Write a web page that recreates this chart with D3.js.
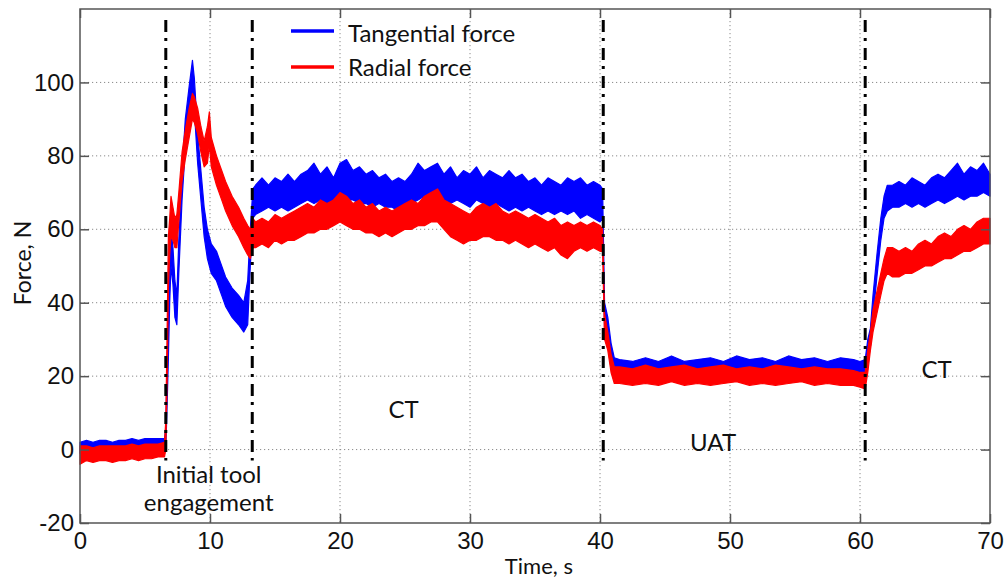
<!DOCTYPE html>
<html>
<head>
<meta charset="utf-8">
<script src="https://cdn.jsdelivr.net/npm/d3@7"></script>
<style>
  html, body { margin: 0; padding: 0; background: #ffffff; }
  svg { display: block; }
</style>
</head>
<body>
<svg id="chart" width="1008" height="580"></svg>
<script>
// ---------------- DATA ----------------
const xTicks = [0, 10, 20, 30, 40, 50, 60, 70];
const yTicks = [-20, 0, 20, 40, 60, 80, 100];
const xDomain = [0, 70];
const yDomain = [-20, 120];

// Time samples (s)
const time = [
  0, 0.5, 1, 1.5, 2, 2.5, 3, 3.5, 4, 4.5, 5, 5.5, 6, 6.5,
  6.6, 6.7, 6.8, 6.9, 7.0, 7.15, 7.3, 7.45, 7.6, 7.85, 8.1, 8.4, 8.65, 8.8, 9.05, 9.3, 9.55, 9.8, 9.95, 10.1, 10.5, 10.9, 11.2, 11.7, 12.2, 12.6, 12.9, 13.1, 13.3,
  13.5, 14, 14.5, 15, 15.5, 16, 16.5, 17, 17.5, 18, 18.5, 19, 19.5, 20, 20.5, 21, 21.5, 22, 22.5, 23, 23.5, 24, 24.5, 25, 25.5, 26, 26.5, 27, 27.5, 28, 28.5, 29, 29.5, 30, 30.5, 31, 31.5, 32, 32.5, 33, 33.5, 34, 34.5, 35, 35.5, 36, 36.5, 37, 37.5, 38, 38.5, 39, 39.5, 40,
  40.2, 40.35, 40.6, 40.85, 41.1,
  41.5, 42.5, 43.5, 44.5, 45.5, 46.5, 47.5, 48.5, 49.5, 50.5, 51.5, 52.5, 53.5, 54.5, 55.5, 56.5, 57.5, 58.5, 59.5,
  60.0, 60.4, 60.6, 60.8, 61.0, 61.3, 61.6, 61.85, 62.1, 62.5,
  63, 63.5, 64, 64.5, 65, 65.5, 66, 66.5, 67, 67.5, 68, 68.5, 69, 69.5, 70
];

// Tangential force envelope (N)
const tangentialHigh = [
  2, 2.5, 2, 2.5, 2.5, 2, 2.5, 2.5, 3, 2.5, 3, 3, 3, 3,
  6, 24, 36, 52, 60, 55, 46, 42, 57, 76, 90, 99, 106, 101, 86, 76, 66, 60, 58, 56, 54, 50, 47, 44, 42, 40, 46, 60, 71,
  72, 74, 72, 74, 73, 75, 73, 75, 76, 78, 75, 77, 74, 78, 79, 76, 77, 75, 76, 74, 75, 73, 74, 73, 75, 78, 76, 77, 78, 75, 77, 74, 76, 75, 77, 74, 76, 75, 74, 76, 74, 75, 73, 74, 72, 74, 73, 72, 74, 73, 74, 72, 73, 72,
  71, 40, 36, 29, 25,
  24.5, 24, 25, 24, 25.5, 24, 24.5, 25, 24, 25.5, 24.5, 25, 24, 25.5, 24.5, 25, 24, 25, 24.5,
  24, 24.5, 30, 33, 42, 53, 63, 69, 72, 72,
  73, 72, 74, 73, 72, 74, 75, 74, 76, 78, 75, 77, 76, 78, 75
];
const tangentialLow = [
  -1, -0.5, -1, -0.5, -0.5, -1, -0.5, -0.5, 0, -0.5, 0, 0, 0, 0,
  0, 12, 25, 40, 50, 45, 36, 34, 48, 68, 82, 91, 97, 92, 78, 68, 58, 52, 50, 48, 46, 42, 39, 36, 34, 32, 34, 50, 63,
  64, 65, 66, 65, 66, 65, 66, 67, 68, 67, 68, 67, 68, 67, 68, 68, 67, 67, 66, 67, 66, 66, 65, 66, 67, 68, 69, 68, 69, 68, 67, 68, 67, 66, 68, 67, 66, 67, 66, 65, 66, 65, 66, 65, 64, 65, 64, 65, 64, 65, 63, 64, 63, 62,
  63, 33, 31, 24, 21,
  21, 21.5, 21, 21.5, 21, 21.5, 21, 21.5, 21, 21.5, 21, 21.5, 21, 21.5, 21, 21.5, 21, 21, 21,
  21, 21, 24, 28, 36, 47, 57, 63, 65, 66,
  66, 67, 66, 67, 66, 67, 68, 67, 68, 69, 68, 69, 69, 70, 69
];

// Radial force envelope (N)
const radialHigh = [
  1, 1, 0.5, 1, 1, 1, 1, 1, 1.5, 1, 1.5, 1.5, 1.5, 2,
  8, 32, 58, 63, 69, 66, 63, 64, 70, 81, 87, 93, 97, 96, 93, 88, 84, 88, 92, 85, 80, 76, 73, 69, 66, 63, 61, 60, 63,
  62, 63, 62, 64, 63, 64, 65, 66, 67, 66, 68, 67, 68, 70, 69, 67, 68, 66, 67, 65, 66, 65, 66, 67, 68, 67, 69, 70, 71, 68, 67, 66, 65, 64, 66, 67, 66, 67, 65, 64, 65, 64, 63, 64, 63, 62, 63, 61, 62, 61, 62, 61, 62, 61,
  60, 37, 32, 26, 22.5,
  22.5, 22, 23, 22, 22.5, 23, 22, 22.5, 23, 22, 22.5, 22, 23, 22.5, 22, 22.5, 22, 22, 21.5,
  21, 21, 27, 32, 38, 43, 48, 52, 55, 55,
  54, 55, 54, 56, 57, 56, 58, 59, 58, 60, 61, 60, 62, 63, 63
];
const radialLow = [
  -4, -3, -3.5, -3, -3, -3.5, -3, -3, -2.5, -3, -2.5, -2.5, -2, -2,
  0, 18, 44, 53, 58, 57, 55, 55, 62, 73, 79, 85, 90, 89, 86, 81, 77, 78, 83, 77, 72, 68, 65, 61, 58, 55, 53, 52, 55,
  55, 56, 55, 57, 56, 57, 57, 58, 59, 59, 60, 60, 61, 62, 61, 60, 60, 59, 59, 58, 59, 58, 59, 60, 60, 61, 61, 62, 62, 60, 58, 57, 56, 57, 57, 58, 58, 57, 57, 56, 57, 56, 55, 56, 55, 54, 55, 53, 52, 54, 55, 54, 55, 54,
  54, 30, 27, 21, 18,
  18, 17.5, 18, 17.5, 18.5, 17.5, 18, 17.5, 18, 18.5, 17.5, 18, 17.5, 18, 18.5, 17.5, 18, 17.5, 17.5,
  17, 16.5, 21, 27, 32, 37, 42, 46, 48, 47,
  47, 48, 48, 49, 50, 50, 51, 52, 52, 53, 54, 54, 55, 56, 56
];

// Phase boundaries (dash-dot lines): time and vertical extent
const phaseTimes = [6.6, 13.25, 40.25, 60.4];
const phaseExtent = [-3, 117];

// Annotations
const phaseLabels = [
  { lines: ["Initial tool", "engagement"], t: 9.9, v: -9 },
  { lines: ["CT"], t: 24.9, v: 8.5 },
  { lines: ["UAT"], t: 48.7, v: -0.3 },
  { lines: ["CT"], t: 65.9, v: 19.5 }
];
const seriesNames = ["Tangential force", "Radial force"];
const seriesColors = ["#0000ff", "#ff0000"];

// ---------------- DRAWING ----------------
const svg = d3.select("#chart");
const L = 80, R = 990, T = 9, B = 523;
const x = d3.scaleLinear().domain(xDomain).range([L, R]);
const y = d3.scaleLinear().domain(yDomain).range([B, T]);

const tickFont = "'Liberation Sans Narrow', 'Arial Narrow', 'Liberation Sans', sans-serif";
const textFont = "Lato, 'Open Sans', sans-serif";
const plainNum = d => String(d);

// grid
const grid = svg.append("g").attr("class", "grid");
grid.selectAll("line.gx").data(xTicks.filter(d => d > xDomain[0] && d < xDomain[1]))
  .enter().append("line")
  .attr("x1", d => x(d)).attr("x2", d => x(d)).attr("y1", T).attr("y2", B)
  .attr("stroke", "#8a8a8a").attr("stroke-width", 1).attr("stroke-dasharray", "1.2,2.8");
grid.selectAll("line.gy").data(yTicks.filter(d => d > yDomain[0] && d < yDomain[1]))
  .enter().append("line")
  .attr("x1", L).attr("x2", R).attr("y1", d => y(d)).attr("y2", d => y(d))
  .attr("stroke", "#8a8a8a").attr("stroke-width", 1).attr("stroke-dasharray", "1.2,2.8");

// series as envelopes
const idx = d3.range(time.length);
const series = [
  { lo: tangentialLow, hi: tangentialHigh, color: seriesColors[0] },
  { lo: radialLow, hi: radialHigh, color: seriesColors[1] }
];
const plot = svg.append("g");
series.forEach(s => {
  const area = d3.area()
    .x(i => x(time[i]))
    .y0(i => y(s.lo[i]))
    .y1(i => y(s.hi[i]));
  plot.append("path").datum(idx)
    .attr("d", area)
    .attr("fill", s.color)
    .attr("stroke", s.color)
    .attr("stroke-width", 1.2)
    .attr("stroke-linejoin", "round");
});

// phase dash-dot lines
svg.append("g").selectAll("line").data(phaseTimes).enter().append("line")
  .attr("x1", d => x(d)).attr("x2", d => x(d))
  .attr("y1", y(phaseExtent[1])).attr("y2", y(phaseExtent[0]))
  .attr("stroke", "#000").attr("stroke-width", 3)
  .attr("stroke-dasharray", "12,6,3,7");

// axes (inward ticks on all four sides)
function styleAxis(g) {
  g.select(".domain").remove();
  g.selectAll(".tick line").attr("stroke", "#555").attr("stroke-width", 1.5);
  g.selectAll(".tick text").attr("fill", "#111").style("font-family", tickFont).style("font-size", "24px");
}
svg.append("g").attr("transform", `translate(0,${B})`)
  .call(d3.axisBottom(x).tickValues(xTicks).tickSize(-9).tickPadding(9).tickFormat(plainNum))
  .call(styleAxis);
svg.append("g").attr("transform", `translate(0,${T})`)
  .call(d3.axisTop(x).tickValues(xTicks).tickSize(-9).tickFormat(""))
  .call(styleAxis);
svg.append("g").attr("transform", `translate(${L},0)`)
  .call(d3.axisLeft(y).tickValues(yTicks).tickSize(-9).tickPadding(6).tickFormat(plainNum))
  .call(styleAxis);
svg.append("g").attr("transform", `translate(${R},0)`)
  .call(d3.axisRight(y).tickValues(yTicks).tickSize(-9).tickFormat(""))
  .call(styleAxis);

// box
svg.append("rect").attr("x", L).attr("y", T).attr("width", R - L).attr("height", B - T)
  .attr("fill", "none").attr("stroke", "#555").attr("stroke-width", 1.5);

// axis titles
svg.append("text").attr("x", x(35.3)).attr("y", 574).attr("text-anchor", "middle")
  .style("font-family", textFont).style("font-size", "22px").attr("fill", "#111").text("Time, s");
svg.append("text").attr("transform", `translate(31,${263}) rotate(-90)`).attr("text-anchor", "middle")
  .style("font-family", textFont).style("font-size", "23px").attr("fill", "#111").text("Force, N");

// phase labels
phaseLabels.forEach(p => {
  p.lines.forEach((ln, k) => {
    svg.append("text").attr("x", x(p.t)).attr("y", y(p.v) + k * 28)
      .attr("text-anchor", "middle")
      .style("font-family", textFont).style("font-size", "24px").attr("fill", "#111").text(ln);
  });
});

// legend
const legendRows = [{ ly: 31, ty: 42 }, { ly: 67, ty: 76 }];
seriesNames.forEach((name, i) => {
  svg.append("line").attr("x1", 291).attr("x2", 334).attr("y1", legendRows[i].ly).attr("y2", legendRows[i].ly)
    .attr("stroke", seriesColors[i]).attr("stroke-width", 3.5);
  svg.append("text").attr("x", 348).attr("y", legendRows[i].ty)
    .style("font-family", textFont).style("font-size", "24px").attr("fill", "#111").text(name);
});
</script>
</body>
</html>
